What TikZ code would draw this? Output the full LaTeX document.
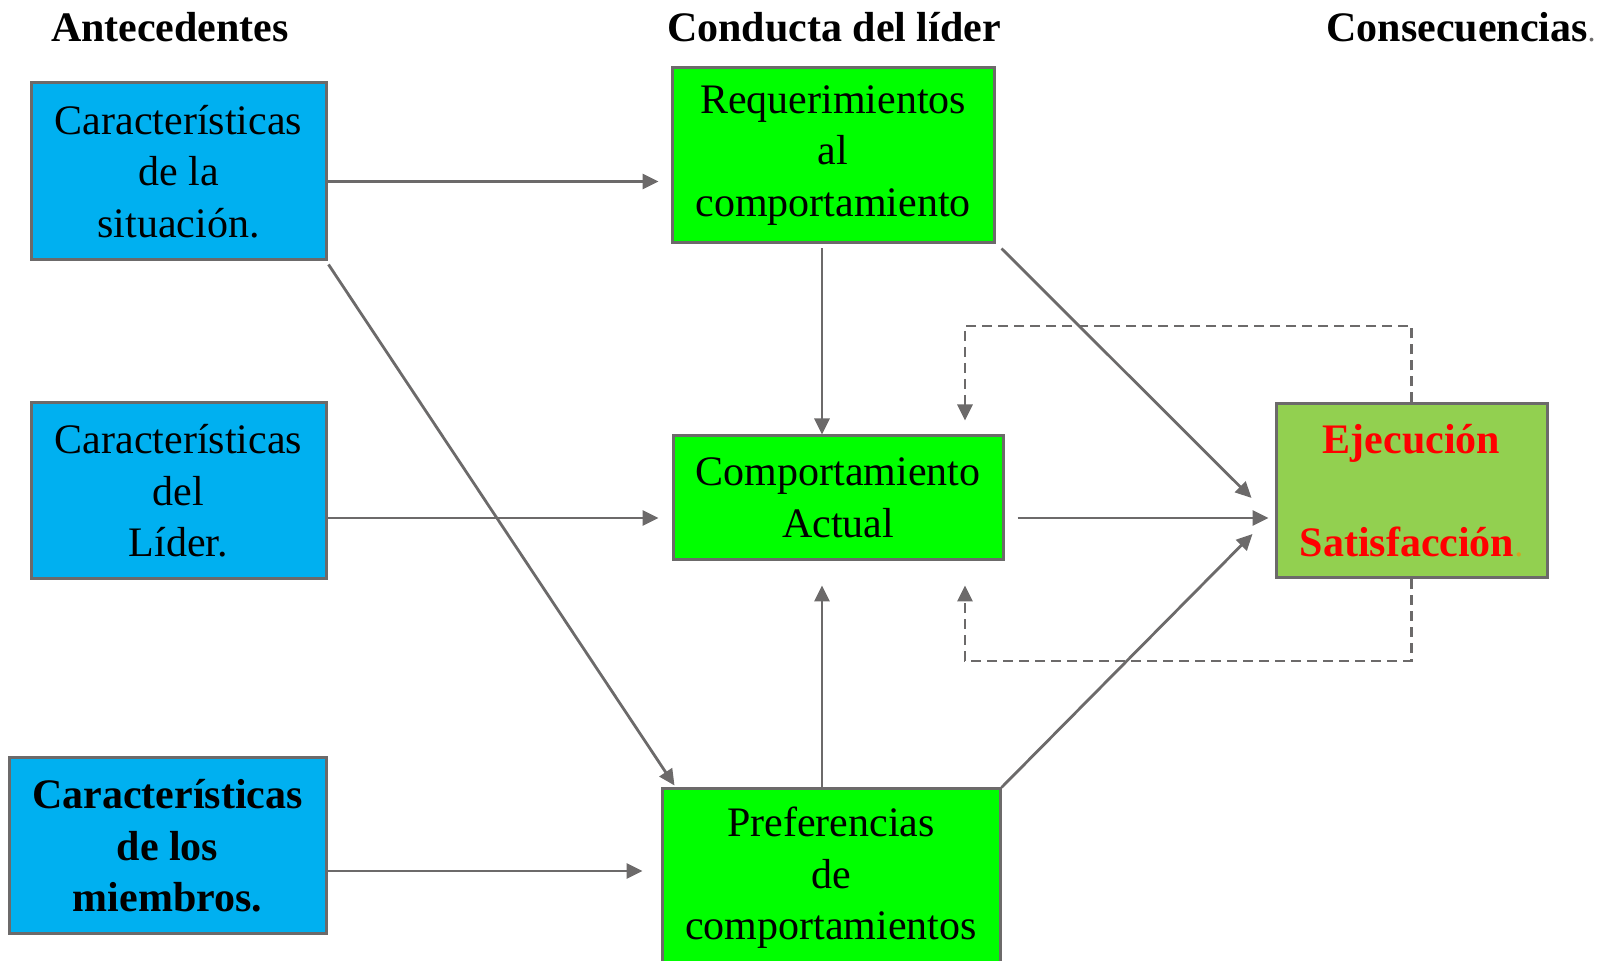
\documentclass[tikz,border=0pt]{standalone}
\usepackage{fontspec}
\setmainfont{Liberation Serif}
\usepackage{tikz}
\usetikzlibrary{positioning,calc,arrows.meta}
\definecolor{celeste}{RGB}{0,176,240}
\definecolor{verde}{RGB}{0,255,0}
\definecolor{verdeclaro}{RGB}{146,208,80}
\definecolor{gris}{RGB}{108,106,106}
\definecolor{ocre}{RGB}{214,160,30}
\tikzset{>={Triangle[length=8pt,width=7.5pt]}}
\tikzset{
  caja/.style={draw=gris,line width=1.5pt,inner sep=0pt,align=center,
    font=\fontsize{21}{25.7}\selectfont},
  ante/.style={caja,fill=celeste},
  cond/.style={caja,fill=verde},
  cons/.style={caja,fill=verdeclaro,text=red,font=\fontsize{21}{25.7}\selectfont\bfseries},
  titulo/.style={font=\fontsize{21}{25.7}\selectfont\bfseries,inner sep=0pt},
  flecha/.style={->,draw=gris,line width=1.4pt},
  retro/.style={->,draw=gris,line width=1.4pt,dash pattern=on 5pt off 3pt}
}

\begin{document}
\begin{tikzpicture}[x=0.5pt,y=-0.5pt]
% Scale at 0.5pt per pixel
\useasboundingbox (0,0) rectangle (1608,961);
\clip (0,0) rectangle (1608,961);

% Column titles
\node[titulo] (tAnt) at (170,27) {Antecedentes};
\node[titulo] (tCon) at (834,27) {Conducta del líder};
\node[titulo] (tCsc) at (1461,27) {Consecuencias{\mdseries\fontsize{16}{16}\selectfont\color{gris}.}};

% Coordinates of boxes
\coordinate (S) at (178.5,171.5);
\coordinate (L) at (178.5,491);
\coordinate (M) at (167.5,846);
\coordinate (R) at (833,155.5);
\coordinate (A) at (838,498);
\coordinate (P) at (831,878);
\coordinate (E) at (1411.5,491);

% Antecedents
\node[ante,minimum width=147.5pt,minimum height=88.5pt] (sit) at (S)
  {Características\\de la\\situación.};
\node[ante,minimum width=147.5pt,minimum height=88pt] (lid) at (L)
  {Características\\del\\Líder.};
\node[ante,minimum width=158.5pt,minimum height=88pt,font=\fontsize{21}{25.7}\selectfont\bfseries] (mie) at (M)
  {Características\\de los\\miembros.};

% Leader behaviour
\node[cond,minimum width=161pt,minimum height=87.5pt] (req) at (R)
  {Requerimientos\\al\\comportamiento};
\node[cond,minimum width=165pt,minimum height=62pt] (act) at (A)
  {Comportamiento\\Actual};
\node[cond,minimum width=169pt,minimum height=89pt] (pre) at (P)
  {Preferencias\\de\\comportamientos};

% Consequences
\node[cons,minimum width=135.5pt,minimum height=87pt] (eje) at (E)
  {Ejecución\\[25.7pt]Satisfacción{\mdseries\fontsize{18}{18}\selectfont\color{ocre}.}};

% Arrows from the antecedents
\draw[flecha,shorten >=6pt] ([yshift=-5pt]sit.east) -- ([yshift=-5pt]sit.east -| req.west);
\draw[flecha,shorten >=6.5pt] ([yshift=-13.5pt]lid.east) -- ([yshift=-13.5pt]lid.east -| act.west);
\draw[flecha,shorten >=9pt] ([yshift=-12.5pt]mie.east) -- ([yshift=-12.5pt]mie.east -| pre.west);
\draw[flecha] ($(sit.south east)+(1,3)$) -- ($(pre.north west)+(14,-2)$);

% Arrows between behaviours
\draw[flecha,shorten <=2pt] ([xshift=-5.5pt]req.south) -- ([xshift=-5.5pt]req.south |- act.north);
\draw[flecha,shorten >=12pt] ([xshift=-4.5pt]pre.north) -- ([xshift=-4.5pt]pre.north |- act.south);

% Arrows to the consequences
\draw[flecha,shorten <=6.5pt,shorten >=3pt] ([yshift=-10pt]act.east) -- ([yshift=-10pt]act.east -| eje.west);
\draw[flecha] ($(req.south east)+(6,4)$) -- ($(eje.west)+(-23,7)$);
\draw[flecha] (pre.north east) -- ($(eje.west)+(-22,43)$);

% Feedback loops
\coordinate (fbT) at (965,326);
\coordinate (fbB) at (965,661);
\draw[retro,shorten >=7pt] (eje.north) |- (fbT) -- (fbT |- act.north);
\draw[retro,shorten >=12pt] (eje.south) |- (fbB) -- (fbB |- act.south);
\end{tikzpicture}
\end{document}
